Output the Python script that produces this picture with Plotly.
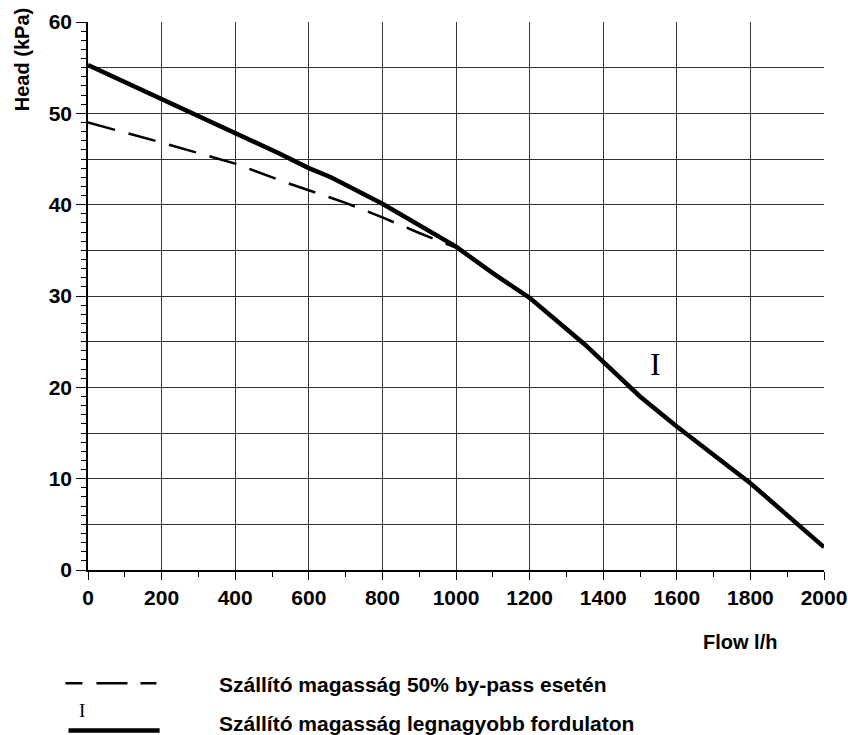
import plotly.graph_objects as go

# ---- data ----
flow_bypass = [0, 200, 400, 540, 700, 800, 900, 1000]
head_bypass = [49.0, 46.8, 44.5, 42.4, 40.2, 38.6, 36.9, 35.3]

flow_max = [0, 200, 400, 520, 600, 660, 800, 1000, 1100, 1200, 1350, 1400, 1500, 1600, 1800, 2000]
head_max = [55.3, 51.6, 47.8, 45.6, 44.0, 43.0, 40.1, 35.4, 32.5, 29.8, 24.7, 22.8, 19.0, 15.7, 9.5, 2.5]

x_ticks = [0, 200, 400, 600, 800, 1000, 1200, 1400, 1600, 1800, 2000]
y_ticks = [0, 10, 20, 30, 40, 50, 60]

legend_labels = ["Szállító magasság 50% by-pass esetén",
                 "Szállító magasság legnagyobb fordulaton"]
curve_mark = "I"
curve_mark_pos = (1541, 22.6)
x_title = "Flow l/h"
y_title = "Head (kPa)"

FONT = "Liberation Sans, Arial, sans-serif"
SERIF = "Liberation Serif, Times New Roman, serif"

fig = go.Figure()

# invisible helper so the secondary grid axis (every 5 kPa) is rendered
fig.add_trace(go.Scatter(x=[0], y=[0], yaxis="y2", mode="markers",
                         marker=dict(opacity=0), showlegend=False, hoverinfo="skip"))

fig.add_trace(go.Scatter(
    x=flow_max, y=head_max, mode="lines",
    line=dict(color="black", width=4.5), showlegend=False, hoverinfo="skip"))
fig.add_trace(go.Scatter(
    x=flow_bypass, y=head_bypass, mode="lines",
    line=dict(color="black", width=2.5, dash="28px,14px"), showlegend=False, hoverinfo="skip"))

tickfont = dict(family=FONT, size=21, color="black", weight="bold")

fig.update_layout(
    width=848, height=735,
    margin=dict(l=88, r=24, t=22, b=165),
    paper_bgcolor="white", plot_bgcolor="white",
    showlegend=False,
    xaxis=dict(
        range=[0, 2000], tickvals=x_ticks, ticktext=[str(v) for v in x_ticks],
        showgrid=True, gridcolor="#333333", gridwidth=1,
        showline=True, linecolor="black", linewidth=2,
        ticks="outside", ticklen=8, tickcolor="black", tickwidth=1,
        minor=dict(dtick=100, ticks="outside", ticklen=5, tickcolor="black", showgrid=False),
        tickfont=tickfont, zeroline=False, fixedrange=True, automargin=False,
    ),
    yaxis=dict(
        range=[0, 60], tickvals=y_ticks, ticktext=[str(v) for v in y_ticks],
        showgrid=True, gridcolor="#333333", gridwidth=1,
        showline=True, linecolor="black", linewidth=1.5,
        ticks="outside", ticklen=10, tickcolor="black", tickwidth=1,
        minor=dict(dtick=1, ticks="outside", ticklen=5, tickcolor="black", showgrid=False),
        tickfont=tickfont, zeroline=False, fixedrange=True, automargin=False,
    ),
    yaxis2=dict(
        range=[0, 60], dtick=5, overlaying="y", showgrid=True, gridcolor="#333333",
        gridwidth=1, showticklabels=False, ticks="", showline=False, zeroline=False,
        fixedrange=True, automargin=False,
    ),
)

# axis titles
fig.add_annotation(text=x_title, xref="paper", yref="paper", x=0.886, y=-0.1305,
                   showarrow=False, xanchor="center", yanchor="middle",
                   font=dict(family=FONT, size=20, color="black", weight="bold"))
fig.add_annotation(text=y_title, xref="paper", yref="paper", x=-0.0905, y=0.931,
                   showarrow=False, textangle=-90, xanchor="center", yanchor="middle",
                   font=dict(family=FONT, size=20, color="black", weight="bold"))

# curve marker
fig.add_annotation(text=curve_mark, x=curve_mark_pos[0], y=curve_mark_pos[1],
                   showarrow=False, font=dict(family=SERIF, size=32, color="black"))

# custom legend
fig.add_shape(type="line", xref="paper", yref="paper", x0=-0.0306, x1=0.0932,
              y0=-0.2067, y1=-0.2067,
              line=dict(color="black", width=2.5, dash="17px,14px,31px,13px,16px"))
fig.add_shape(type="line", xref="paper", yref="paper", x0=-0.0265, x1=0.0973,
              y0=-0.2931, y1=-0.2931, line=dict(color="black", width=4.5))
fig.add_annotation(text=curve_mark, xref="paper", yref="paper", x=-0.0143, y=-0.2785,
                   showarrow=False, font=dict(family=SERIF, size=19, color="black"))
fig.add_annotation(text=legend_labels[0], xref="paper", yref="paper", x=0.1747, y=-0.2095,
                   showarrow=False, xanchor="left", yanchor="middle",
                   font=dict(family=FONT, size=21, color="black", weight="bold"))
fig.add_annotation(text=legend_labels[1], xref="paper", yref="paper", x=0.1747, y=-0.2795,
                   showarrow=False, xanchor="left", yanchor="middle",
                   font=dict(family=FONT, size=21, color="black", weight="bold"))

fig.write_html("out.html", config=dict(displayModeBar=False),
               post_script="document.body.style.margin='0';document.body.style.overflow='hidden';")
